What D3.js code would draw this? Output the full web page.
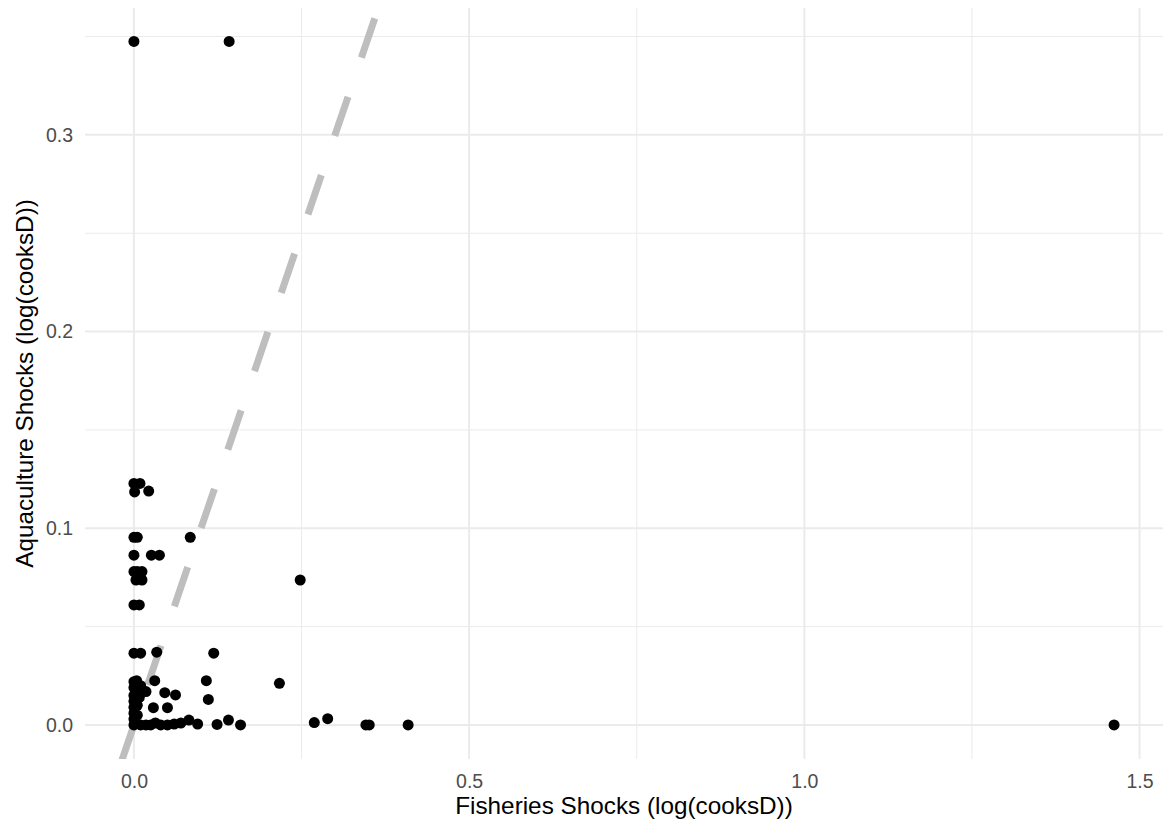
<!DOCTYPE html>
<html>
<head>
<meta charset="utf-8">
<script src="https://cdn.jsdelivr.net/npm/d3@7"></script>
<style>
  body { margin: 0; background: #fff; }
  text { font-family: "Liberation Sans", Arial, sans-serif; }
</style>
</head>
<body>
<svg id="chart"></svg>
<script>
const width = 1166;
const height = 830;

// fisheries shock (x) vs aquaculture shock (y)
const fishX = [
  0.000, 0.142,
  0.000, 0.009, 0.001, 0.022,
  0.000, 0.005, 0.084,
  0.000, 0.026, 0.038,
  0.000, 0.005, 0.012, 0.003, 0.012, 0.248,
  0.000, 0.008,
  0.000, 0.010, 0.034, 0.119,
  0.000, 0.004, 0.031, 0.108, 0.217,
  0.018, 0.046, 0.062, 0.111,
  0.029, 0.050,
  0.000, 0.000, 0.000, 0.000, 0.000, 0.000, 0.000,
  0.005, 0.005, 0.008, 0.012, 0.010,
  0.010, 0.018, 0.025, 0.032, 0.040, 0.050, 0.060, 0.070,
  0.082, 0.095, 0.124, 0.141, 0.159,
  0.269, 0.289, 0.346, 0.351, 0.409,
  1.462
];
const aquaY = [
  0.3475, 0.3475,
  0.1228, 0.1228, 0.1185, 0.1189,
  0.0954, 0.0954, 0.0954,
  0.0863, 0.0863, 0.0863,
  0.0780, 0.0780, 0.0780, 0.0737, 0.0737, 0.0737,
  0.0610, 0.0610,
  0.0365, 0.0365, 0.0370, 0.0365,
  0.0220, 0.0225, 0.0225, 0.0225, 0.0212,
  0.0170, 0.0164, 0.0153, 0.0130,
  0.0088, 0.0088,
  0.0000, 0.0030, 0.0060, 0.0090, 0.0120, 0.0150, 0.0190,
  0.0050, 0.0100, 0.0140, 0.0170, 0.0200,
  0.0000, 0.0000, 0.0000, 0.0010, 0.0000, 0.0000, 0.0005, 0.0010,
  0.0025, 0.0005, 0.0003, 0.0025, 0.0000,
  0.0012, 0.0032, 0.0000, 0.0000, 0.0000,
  0.0000
];
const points = fishX.map((x, i) => ({ x, y: aquaY[i] }));

const xMajor = [0, 0.5, 1.0, 1.5];
const xMinor = [0.25, 0.75, 1.25];
const yMajor = [0, 0.1, 0.2, 0.3];
const yMinor = [0.05, 0.15, 0.25, 0.35];

const xTitle = "Fisheries Shocks (log(cooksD))";
const yTitle = "Aquaculture Shocks (log(cooksD))";

// reference line y = x, dash phase
const refLine = [-0.0593, 0.45];
const dashPeriod = 0.03986;

const panel = { left: 85, right: 1163, top: 8, bottom: 759 };

const svg = d3.select("#chart").attr("width", width).attr("height", height);

const x = d3.scaleLinear().domain([-0.073, 1.535]).range([panel.left, panel.right]);
const y = d3.scaleLinear().domain([-0.0173, 0.3645]).range([panel.bottom, panel.top]);

svg.append("defs").append("clipPath").attr("id", "panel-clip")
  .append("rect")
  .attr("x", panel.left).attr("y", panel.top)
  .attr("width", panel.right - panel.left)
  .attr("height", panel.bottom - panel.top);

const grid = svg.append("g").attr("class", "grid");

grid.selectAll("line.xminor").data(xMinor).enter().append("line")
  .attr("x1", d => x(d)).attr("x2", d => x(d))
  .attr("y1", panel.top).attr("y2", panel.bottom)
  .attr("stroke", "#ebebeb").attr("stroke-width", 1);
grid.selectAll("line.yminor").data(yMinor).enter().append("line")
  .attr("y1", d => y(d)).attr("y2", d => y(d))
  .attr("x1", panel.left).attr("x2", panel.right)
  .attr("stroke", "#ebebeb").attr("stroke-width", 1);
grid.selectAll("line.xmajor").data(xMajor).enter().append("line")
  .attr("x1", d => x(d)).attr("x2", d => x(d))
  .attr("y1", panel.top).attr("y2", panel.bottom)
  .attr("stroke", "#ebebeb").attr("stroke-width", 2);
grid.selectAll("line.ymajor").data(yMajor).enter().append("line")
  .attr("y1", d => y(d)).attr("y2", d => y(d))
  .attr("x1", panel.left).attr("x2", panel.right)
  .attr("stroke", "#ebebeb").attr("stroke-width", 2);

// dashed y = x line
const segLen = Math.hypot(x(dashPeriod) - x(0), y(dashPeriod) - y(0));
svg.append("g").attr("clip-path", "url(#panel-clip)")
  .append("line")
  .attr("x1", x(refLine[0])).attr("y1", y(refLine[0]))
  .attr("x2", x(refLine[1])).attr("y2", y(refLine[1]))
  .attr("stroke", "#bebebe")
  .attr("stroke-width", 7)
  .attr("stroke-dasharray", `${segLen / 2},${segLen / 2}`);

svg.append("g").attr("clip-path", "url(#panel-clip)")
  .selectAll("circle")
  .data(points)
  .enter()
  .append("circle")
  .attr("cx", d => x(d.x))
  .attr("cy", d => y(d.y))
  .attr("r", 5.5)
  .attr("fill", "#000");

const xAxis = svg.append("g")
  .attr("transform", `translate(0,${panel.bottom})`)
  .call(d3.axisBottom(x).tickValues(xMajor).tickFormat(d3.format(".1f")).tickSize(0).tickPadding(15));
const yAxis = svg.append("g")
  .attr("transform", `translate(${panel.left},0)`)
  .call(d3.axisLeft(y).tickValues(yMajor).tickFormat(d3.format(".1f")).tickSize(0).tickPadding(12));

[xAxis, yAxis].forEach(g => {
  g.select(".domain").remove();
  g.selectAll("text")
    .attr("fill", "#4d4d4d")
    .style("font-size", "19.5px")
    .style("font-family", "'Liberation Sans', Arial, sans-serif");
});

svg.append("text")
  .attr("x", (panel.left + panel.right) / 2)
  .attr("y", 814)
  .attr("text-anchor", "middle")
  .style("font-size", "24.3px")
  .attr("fill", "#000")
  .text(xTitle);

svg.append("text")
  .attr("transform", `translate(33,${(panel.top + panel.bottom) / 2}) rotate(-90)`)
  .attr("text-anchor", "middle")
  .style("font-size", "24.3px")
  .attr("fill", "#000")
  .text(yTitle);
</script>
</body>
</html>
